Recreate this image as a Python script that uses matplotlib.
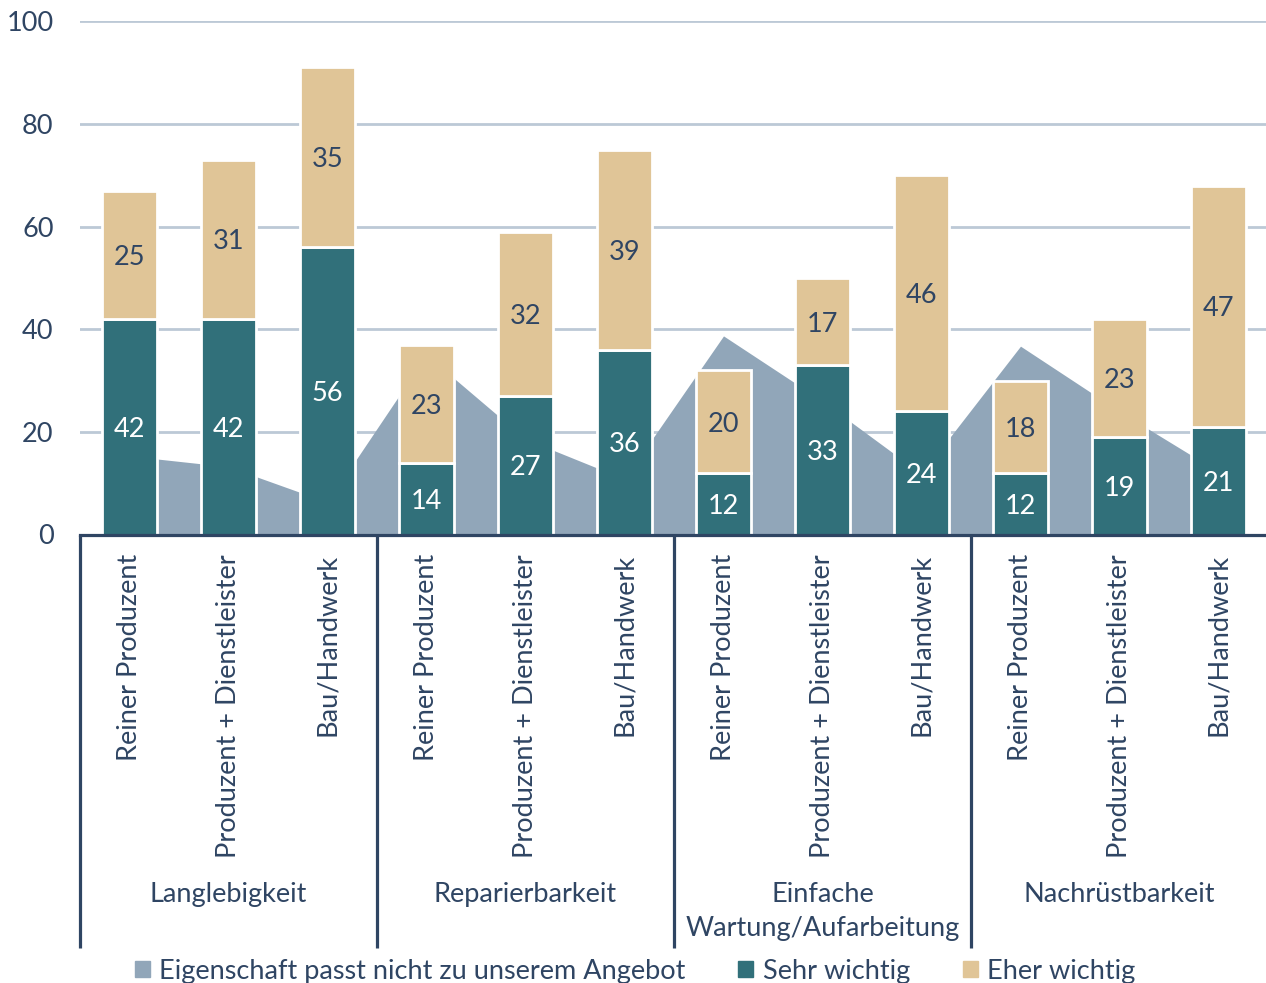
import numpy as np
import matplotlib
matplotlib.use("Agg")
import matplotlib.pyplot as plt
from matplotlib.patches import Patch
import matplotlib.transforms as mtransforms

categories = ["Reiner Produzent", "Produzent + Dienstleister", "Bau/Handwerk"] * 4
groups = ["Langlebigkeit", "Reparierbarkeit", "Einfache\nWartung/Aufarbeitung", "Nachrüstbarkeit"]
passt_nicht = [15.3, 13.2, 6.3, 35.0, 18.6, 10.8, 38.7, 26.0, 11.8, 36.7, 24.0, 12.2]
sehr_wichtig = [42, 42, 56, 14, 27, 36, 12, 33, 24, 12, 19, 21]
eher_wichtig = [25, 31, 35, 23, 32, 39, 20, 17, 46, 18, 23, 47]
yticks = [0, 20, 40, 60, 80, 100]

c_area = "#91A6B9"
c_teal = "#31707A"
c_tan = "#E0C597"
c_text = "#2F4563"
c_grid = "#BCC9D6"
fs = 19.5

plt.rcParams["font.family"] = ["Lato", "DejaVu Sans"]

W, H = 1266, 983
fig = plt.figure(figsize=(W / 100, H / 100), dpi=100)
ax = fig.add_axes([80 / W, 1 - 534.5 / H, (1268 - 80) / W, 513.2 / H])

x = np.arange(len(categories))
ax.fill_between(x, 0, passt_nicht, color=c_area, lw=0, zorder=2)
ax.bar(x, sehr_wichtig, width=0.55, color=c_teal, edgecolor="white", linewidth=2, zorder=3)
ax.bar(x, eher_wichtig, width=0.55, bottom=sehr_wichtig, color=c_tan, edgecolor="white", linewidth=2, zorder=3)

for i in range(len(x)):
    ax.text(x[i], sehr_wichtig[i] / 2, str(sehr_wichtig[i]), ha="center", va="center_baseline",
            color="white", fontsize=fs, zorder=4)
    ax.text(x[i], sehr_wichtig[i] + eher_wichtig[i] / 2, str(eher_wichtig[i]), ha="center",
            va="center_baseline", color=c_text, fontsize=fs, zorder=4)

ax.set_xlim(-0.5, len(x) - 0.5)
ax.set_ylim(0, 100)
ax.set_yticks(yticks)
ax.set_yticklabels([str(v) for v in yticks], color=c_text, fontsize=fs)
ax.tick_params(axis="y", length=0, pad=19)
ax.yaxis.grid(True, color=c_grid, lw=2, zorder=0)
ax.set_axisbelow(True)

ax.set_xticks(x)
ax.set_xticklabels(categories, rotation=90, va="top", ha="center", color=c_text, fontsize=fs)
ax.tick_params(axis="x", length=0, pad=14)

for s in ["top", "right", "left"]:
    ax.spines[s].set_visible(False)
ax.spines["bottom"].set_color(c_text)
ax.spines["bottom"].set_linewidth(2.3)
ax.spines["bottom"].set_zorder(5)

# group separators and group labels
trans = mtransforms.blended_transform_factory(ax.transData, ax.transAxes)
sep_bottom = -(948 - 534.5) / 513.2
for b in [-0.5, 2.5, 5.5, 8.5, 11.5]:
    ax.plot([b, b], [0, sep_bottom], transform=trans, color=c_text, lw=2.3,
            clip_on=False, solid_capstyle="butt")
lab_y = -(882 - 534.5) / 513.2
for g, name in enumerate(groups):
    ax.text(3 * g + 1, lab_y, name, transform=trans, ha="center", va="top",
            color=c_text, fontsize=fs, linespacing=1.45)

handles = [Patch(color=c_area), Patch(color=c_teal), Patch(color=c_tan)]
labels = ["Eigenschaft passt nicht zu unserem Angebot", "Sehr wichtig", "Eher wichtig"]
fig.legend(handles, labels, loc="center", bbox_to_anchor=(635 / W, 1 - 971 / H), ncol=3,
           frameon=False, fontsize=fs, handlelength=0.55, handleheight=0.55,
           handletextpad=0.35, columnspacing=1.95, labelcolor=c_text, borderpad=0)

plt.savefig("out.png", dpi=100)
